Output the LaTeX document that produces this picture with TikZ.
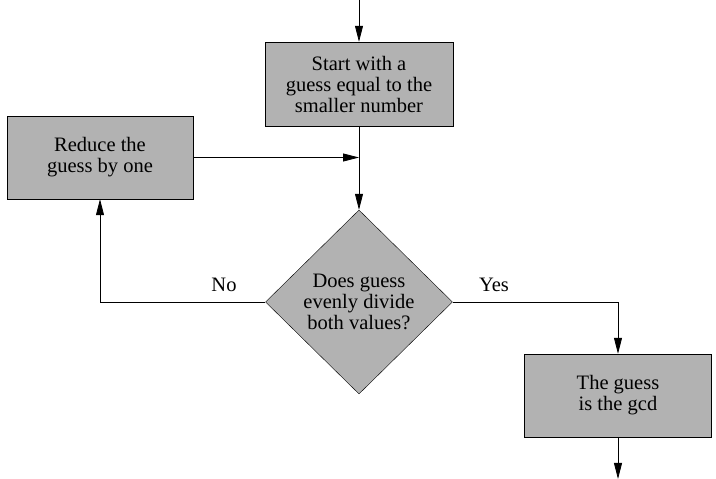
\documentclass[tikz,border=0pt]{standalone}
\usepackage{fontspec}
\setmainfont{Liberation Serif}
\usetikzlibrary{shapes.geometric,arrows.meta}

\begin{document}
\begin{tikzpicture}[x=1pt,y=1pt,
        every node/.style={font=\fontsize{20.5}{21}\selectfont, align=center},
        procbox/.style={draw=black, fill=black!30, rectangle, inner sep=0pt},
        testbox/.style={draw=black, fill=black!30, diamond, inner sep=0pt,
            minimum width=187pt, minimum height=184pt},
        flow/.style={-{Triangle[length=16pt,width=8pt]}, line width=.8pt}]
        \useasboundingbox (0,0) rectangle (716,479);
        
        % Boxes and the test
        \node[procbox, minimum width=188pt, minimum height=84pt] (start) at (359,395) {Start with a\\guess equal to the\\smaller number};
        \node[procbox, minimum width=186pt, minimum height=83pt] (reduce) at (100,321.5) {Reduce the\\guess by one};
        \node[testbox] (test) at (359,177) {Does guess\\evenly divide\\both values?};
        \node[procbox, minimum width=187pt, minimum height=83pt] (gcd) at (618,83.5) {The guess\\is the gcd};
        
        % Free ends and the join
        \coordinate (entry) at (359,479);
        \coordinate (exit) at (618,0);
        \coordinate (join) at (start.south |- reduce.east);
        
        % Connectors
        \draw[flow] (entry) -- (start.north);
        \draw[flow] (start.south) -- (test.north);
        \draw[flow] (reduce.east) -- (join);
        \draw[flow] (test.west) -| (reduce.south);
        \draw[flow] (test.east) -| (gcd.north);
        \draw[flow] (gcd.south) -- (exit);
        \node at (224,194) {No};
        \node at (494,194) {Yes};
    \end{tikzpicture}
\end{document}
